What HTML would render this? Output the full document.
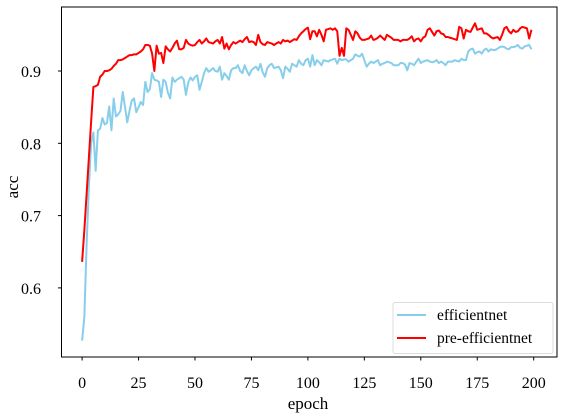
<!DOCTYPE html>
<html><head><meta charset="utf-8"><style>
html,body{margin:0;padding:0;background:#fff;}
svg{display:block;font-family:"Liberation Serif",serif;}
</style></head><body>
<svg id="chart" width="564" height="420" viewBox="0 0 564 420" xmlns="http://www.w3.org/2000/svg">
<rect x="0" y="0" width="564" height="420" fill="#fff"/>
<g id="series"></g>
<rect x="61.5" y="7" width="495.5" height="350" fill="none" stroke="#000" stroke-width="1"/>
<g id="xticks"></g><g id="yticks"></g>
<text x="308" y="409" font-size="17" text-anchor="middle">epoch</text>
<text x="18" y="187" font-size="17" text-anchor="middle" transform="rotate(-90 18 187)">acc</text>
<g>
<rect x="393" y="302.5" width="160" height="51" fill="#fff" stroke="#ddd" stroke-width="1" rx="2"/>
<line x1="397" y1="315" x2="426" y2="315" stroke="#87CEEB" stroke-width="2"/>
<text x="437" y="320" font-size="15.5">efficientnet</text>
<line x1="397" y1="338" x2="426" y2="338" stroke="#ff0000" stroke-width="2"/>
<text x="437" y="343" font-size="15.5">pre-efficientnet</text>
</g>
</svg>
<script>
const xTicks=[0,25,50,75,100,125,150,175,200];
const yTicks=[0.6,0.7,0.8,0.9];
const yTickLabels=["0.6","0.7","0.8","0.9"];
const efficientnet=[.527,.56,.66,.74,.80,.815,.762,.818,.82,.835,.826,.828,.851,.818,.862,.837,.84,.845,.871,.85,.829,.845,.859,.862,.843,.85,.857,.853,.885,.871,.875,.897,.888,.887,.885,.864,.888,.885,.87,.862,.891,.885,.888,.89,.892,.888,.867,.884,.891,.887,
.892,.894,.874,.885,.897,.904,.899,.901,.904,.900,.899,.906,.888,.897,.893,.888,.901,.904,.904,.908,.900,.897,.908,.900,.894,.901,.904,.906,.901,.910,.898,.892,.904,.908,.910,.904,.905,.906,.901,.890,.906,.903,.899,.910,.908,.906,.915,.910,.908,.915,
.917,.906,.922,.908,.915,.912,.908,.915,.914,.913,.915,.916,.917,.910,.917,.915,.916,.916,.913,.915,.917,.923,.921,.920,.924,.915,.906,.910,.913,.911,.913,.915,.908,.910,.911,.913,.912,.911,.908,.908,.908,.911,.911,.909,.901,.911,.910,.908,.913,.917,
.911,.913,.914,.915,.913,.912,.913,.915,.911,.913,.911,.908,.913,.913,.913,.915,.914,.913,.917,.915,.915,.927,.930,.931,.924,.926,.927,.924,.929,.931,.927,.930,.929,.929,.931,.933,.934,.933,.931,.930,.933,.933,.934,.936,.932,.931,.934,.935,.936,.930];
const preEfficientnet=[.636,.68,.73,.78,.83,.878,.879,.881,.892,.895,.9,.9,.901,.903,.907,.91,.915,.915,.916,.918,.92,.922,.922,.923,.923,.925,.927,.93,.936,.936,.935,.924,.9,.935,.924,.925,.911,.934,.93,.927,.932,.938,.942,.93,.93,.932,.943,.938,.936,.935,
.936,.940,.943,.938,.941,.945,.940,.939,.938,.941,.943,.938,.947,.931,.938,.930,.936,.940,.938,.940,.942,.940,.944,.947,.940,.941,.940,.936,.950,.940,.937,.936,.940,.939,.938,.936,.938,.940,.938,.943,.941,.942,.940,.942,.944,.943,.948,.952,.955,.958,
.960,.944,.955,.955,.948,.957,.950,.941,.957,.958,.959,.957,.959,.955,.921,.932,.921,.959,.957,.950,.943,.955,.952,.946,.943,.943,.944,.945,.949,.943,.944,.946,.949,.946,.943,.950,.948,.946,.943,.943,.943,.941,.943,.943,.943,.945,.948,.941,.944,.945,
.941,.946,.948,.957,.959,.954,.949,.955,.956,.952,.951,.947,.947,.946,.945,.944,.943,.961,.959,.945,.957,.955,.954,.960,.966,.957,.958,.959,.952,.952,.950,.947,.945,.946,.947,.943,.950,.959,.961,.955,.952,.957,.954,.955,.959,.961,.960,.959,.945,.957];
const NS="http://www.w3.org/2000/svg";
function xs(e){return 82.1+e*2.258;}
function ys(v){return 71+(0.9-v)*723;}
function mk(t,a,p){const el=document.createElementNS(NS,t);for(const k in a)el.setAttribute(k,a[k]);p.appendChild(el);return el;}
const series=document.getElementById('series');
function drawLine(vals,color,name){
  let d='';
  vals.forEach((v,i)=>{d+=(i?'L':'M')+xs(i).toFixed(2)+' '+ys(v).toFixed(2);});
  const p=mk('path',{d:d,fill:'none',stroke:color,'stroke-width':2,'stroke-linejoin':'round'},series);
  
  
}
drawLine(efficientnet,'#87CEEB','efficientnet-line');
drawLine(preEfficientnet,'#ff0000','pre-efficientnet-line');
const xg=document.getElementById('xticks');
xTicks.forEach(t=>{
  const l=mk('line',{x1:xs(t),y1:357,x2:xs(t),y2:360.5,stroke:'#000','stroke-width':1},xg);
  
  
  const tx=mk('text',{x:xs(t),y:388,'font-size':16,'text-anchor':'middle'},xg);
  tx.textContent=String(t);
  
  
});
const yg=document.getElementById('yticks');
yTicks.forEach((t,i)=>{
  const l=mk('line',{x1:58,y1:ys(t),x2:61.5,y2:ys(t),stroke:'#000','stroke-width':1},yg);
  
  
  const tx=mk('text',{x:41,y:ys(t)+6,'font-size':16,'text-anchor':'end'},yg);
  tx.textContent=yTickLabels[i];
  
  
});
</script>
</body></html>
